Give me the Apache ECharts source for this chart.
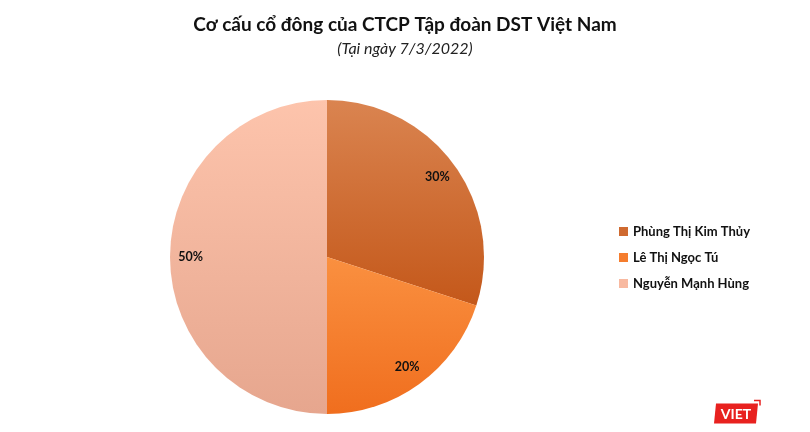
<!DOCTYPE html>
<html><head><meta charset="utf-8">
<script src="https://cdn.jsdelivr.net/npm/echarts@6/dist/echarts.min.js"></script>
<style>html,body{margin:0;padding:0;background:#fff}#c{width:810px;height:432px}</style>
</head><body><div id="c"></div>
<script>
var categories = ["Phùng Thị Kim Thủy", "Lê Thị Ngọc Tú", "Nguyễn Mạnh Hùng"];
var values = [30, 20, 50];
var titleText = "Cơ cấu cổ đông của CTCP Tập đoàn DST Việt Nam";
var subtitleText = "(Tại ngày 7/3/2022)";

var grads = [
  ["#DA8450", "#C4581A"],
  ["#FA9040", "#F06E1E"],
  ["#FDC4AC", "#E6A68E"]
];
var solid = ["#CF6A30", "#F57D2E", "#F8B9A0"];
var FONT = "Lato";
var chart = echarts.init(document.getElementById('c'));
chart.setOption({
  backgroundColor: '#fff',
  animation: false,
  title: {
    text: titleText, subtext: subtitleText, left: 'center', top: 10, itemGap: 7,
    textStyle: {fontFamily: FONT, fontWeight: 'bold', fontSize: 19, color: '#111'},
    subtextStyle: {fontFamily: FONT, fontStyle: 'italic', fontSize: 16, color: '#222'}
  },
  legend: {
    orient: 'vertical', left: 614, top: 220, icon: 'rect', itemWidth: 9, itemHeight: 9,
    itemGap: 13, data: categories.map(function(n, i){ return {name: n, itemStyle: {color: solid[i]}}; }),
    textStyle: {fontFamily: FONT, fontWeight: 'bold', fontSize: 13, color: '#111'}
  },
  graphic: [{
    type: 'group', left: 714, top: 398,
    children: [
      {type: 'polygon', shape: {points: [[2, 3], [44, 3], [42, 23], [0, 23]]}, style: {fill: '#E8211F'}},
      {type: 'polyline', shape: {points: [[40, 0], [46, 0], [46, 5]]}, style: {stroke: '#E8211F', lineWidth: 1.5, fill: null}},
      {type: 'text', style: {x: 22, y: 13.5, text: 'VIET', fill: '#fff', align: 'center', verticalAlign: 'middle', font: 'bold 14px ' + FONT}}
    ]
  }],
  series: [{
    type: 'pie', center: [327, 257], radius: 157, startAngle: 90, clockwise: true,
    label: {show: false}, labelLine: {show: false},
    emphasis: {disabled: true},
    data: categories.map(function(n, i){
      return {name: n, value: values[i], itemStyle: {color: {type: 'linear', x: 0, y: 0, x2: 0, y2: 1,
        colorStops: [{offset: 0, color: grads[i][0]}, {offset: 1, color: grads[i][1]}]}}};
    })
  }, {
    type: 'pie', center: [327, 257], radius: [110, 157], startAngle: 90, clockwise: true,
    silent: true, avoidLabelOverlap: false,
    itemStyle: {color: 'rgba(0,0,0,0)'},
    label: {position: 'inside', formatter: '{d}%', fontFamily: FONT, fontWeight: 'bold', fontSize: 12.5, color: '#111'},
    labelLine: {show: false},
    emphasis: {disabled: true},
    data: categories.map(function(n, i){ return {name: n, value: values[i]}; })
  }]
});
</script></body></html>
